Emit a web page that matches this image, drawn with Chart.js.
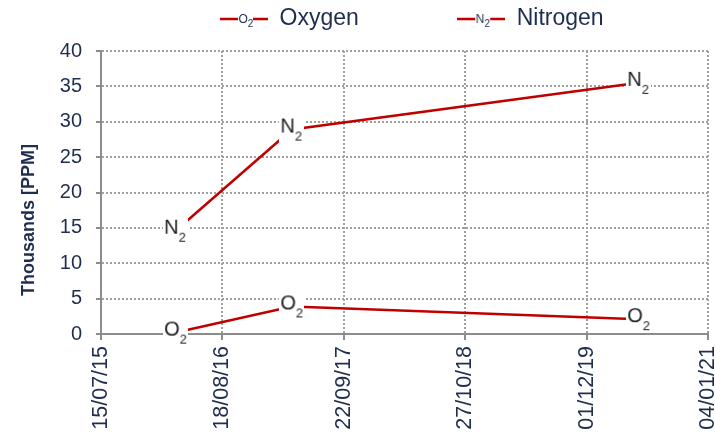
<!DOCTYPE html>
<html><head><meta charset="utf-8">
<script src="https://cdn.jsdelivr.net/npm/chart.js@4.4.1/dist/chart.umd.min.js"></script>
<style>html,body{margin:0;padding:0;background:#fff}</style>
</head><body>
<canvas id="c" width="715" height="439" style="display:block"></canvas>
<script>
// ---- data ----
const originDate = '2015-07-15';
const sampleDates = ['2016-03-17', '2017-04-04', '2020-05-21'];
const oxygen = [0.2, 3.9, 2.1];
const nitrogen = [14.6, 28.9, 35.5];
const xTickLabels = ['15/07/15', '18/08/16', '22/09/17', '27/10/18', '01/12/19', '04/01/21'];
const yAxisTitle = 'Thousands [PPM]';
const seriesNames = ['Oxygen', 'Nitrogen'];
const seriesSymbols = ['O', 'N'];

const FONT = '"Liberation Sans", Arial, sans-serif';
const NAVY = '#1F2D4E';
const RED = '#C00000';

function dayOffset(s) {
  return Math.round((Date.parse(s) - Date.parse(originDate)) / 86400000);
}

function makeMarker(sym) {
  const c = document.createElement('canvas');
  c.width = 25; c.height = 26;
  const g = c.getContext('2d');
  g.fillStyle = '#fff'; g.fillRect(0, 0, c.width, c.height);
  g.fillStyle = '#1b1b22';
  g.font = '20px ' + FONT;
  g.fillText(sym, 1, 16);
  const w = g.measureText(sym).width;
  g.font = '13px ' + FONT;
  g.fillText('2', 1 + w, 24);
  return c;
}
function makeLegendMarker(sym) {
  const c = document.createElement('canvas');
  c.width = 48; c.height = 20;
  const g = c.getContext('2d');
  g.strokeStyle = RED; g.lineWidth = 2.5;
  g.beginPath(); g.moveTo(0, 10); g.lineTo(18, 10); g.moveTo(33, 10); g.lineTo(48, 10); g.stroke();
  g.fillStyle = NAVY;
  g.font = '12px ' + FONT;
  g.fillText(sym, 18.5, 13.5);
  const w = g.measureText(sym).width;
  g.font = '10px ' + FONT;
  g.fillText('2', 18.5 + w, 17.5);
  return c;
}

const markers = seriesSymbols.map(makeMarker);
const legendMarkers = seriesSymbols.map(makeLegendMarker);

const LEG_FONT = 23, LEG_PAD = 9;
// widen first legend label with spaces so the second item starts where it should
const mc = document.createElement('canvas').getContext('2d');
mc.font = LEG_FONT + 'px ' + FONT;
const targetW = 460 - LEG_PAD - (220 + 48 + LEG_FONT / 2);
let firstText = seriesNames[0];
while (mc.measureText(firstText + ' ').width <= targetW + 2) firstText += ' ';

// axis title sits lower than the axis centre in the reference: pad with trailing spaces
mc.font = 'bold 18px ' + FONT;
let titleText = yAxisTitle;
while (mc.measureText(titleText + ' ').width - mc.measureText(yAxisTitle).width <= 56) titleText += ' ';

const layoutFix = {
  id: 'layoutFix',
  afterLayout(chart) {
    const lg = chart.legend;
    lg.left = 220 - LEG_PAD;
    lg.right = 715;
    lg.top = 19 - LEG_PAD - LEG_FONT / 2;
  }
};

const values = [oxygen, nitrogen];
new Chart(document.getElementById('c'), {
  type: 'line',
  data: {
    datasets: seriesNames.map((name, k) => ({
      label: name,
      data: sampleDates.map((d, i) => ({x: dayOffset(d), y: values[k][i]})),
      borderColor: RED,
      backgroundColor: RED,
      borderWidth: 2.5,
      pointStyle: markers[k],
      tension: 0,
      clip: false
    }))
  },
  options: {
    responsive: false,
    animation: false,
    events: [],
    layout: {padding: {left: 0, right: 7, top: 9, bottom: 0}},
    plugins: {
      tooltip: {enabled: false},
      legend: {
        position: 'top',
        align: 'start',
        labels: {
          usePointStyle: true,
          pointStyleWidth: 48,
          padding: LEG_PAD,
          color: NAVY,
          font: {family: FONT, size: LEG_FONT},
          generateLabels(chart) {
            return Chart.defaults.plugins.legend.labels.generateLabels(chart).map((it, i) => {
              it.pointStyle = legendMarkers[i];
              if (i === 0) it.text = firstText;
              return it;
            });
          }
        }
      }
    },
    scales: {
      x: {
        type: 'linear',
        min: 0, max: 2000,
        afterFit(s) { s.height = 105; s.paddingLeft = 0; s.paddingRight = 0; },
        ticks: {
          stepSize: 400,
          autoSkip: false,
          maxRotation: 90, minRotation: 90,
          padding: 6,
          color: NAVY,
          font: {family: FONT, size: 21.5},
          callback(v) { const i = Math.round(v / 400); return xTickLabels[i] ?? ''; }
        },
        grid: {color: '#a0a0a0', lineWidth: 2, tickLength: 6, tickColor: '#8c8c8c', tickWidth: 2, tickBorderDash: []},
        border: {display: true, color: '#8c8c8c', width: 2, dash: [2, 2]}
      },
      y: {
        min: 0, max: 40,
        afterFit(s) { s.width = 101; s.paddingTop = 0; s.paddingBottom = 0; },
        ticks: {stepSize: 5, padding: 14, color: NAVY, font: {family: FONT, size: 20}},
        grid: {color: '#a0a0a0', lineWidth: 2, tickLength: 5, tickColor: '#8c8c8c', tickWidth: 2, tickBorderDash: []},
        border: {display: true, color: '#8c8c8c', width: 2, dash: [2, 2]},
        title: {display: true, text: titleText, color: NAVY, font: {family: FONT, size: 18, weight: 'bold'}, padding: {top: 18, bottom: 0}}
      }
    }
  },
  plugins: [layoutFix]
});
</script>
</body></html>
